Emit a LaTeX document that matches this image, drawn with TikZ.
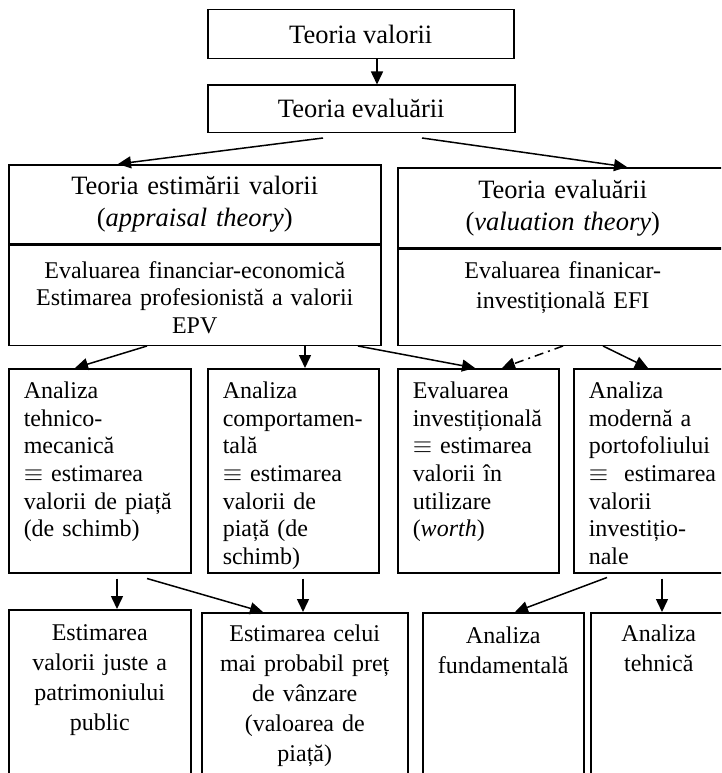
\documentclass[tikz,border=0pt]{standalone}
\usepackage{fontspec}
\setmainfont{Liberation Serif}
\usetikzlibrary{arrows.meta, positioning}
\newcommand{\headfont}{\fontsize{26.5}{32}\selectfont}
\newcommand{\bodyfont}{\fontsize{24}{27.6}\selectfont}
\newcommand{\lowfont}{\fontsize{24}{30}\selectfont}
\tikzset{
    % Base cell style
    cell/.style={
        rectangle,
        draw=black,
        line width=1.5pt,
        inner sep=0pt,
        anchor=north west
    },
    % Cell roles
    headCell/.style={cell, align=center, font=\headfont, inner xsep=6pt},
    finCell/.style={cell, align=center, font=\bodyfont, inner xsep=6pt, text depth=67pt},
    analysisCell/.style={cell, align=left, font=\bodyfont, inner xsep=15pt, text height=30pt, text depth=174pt},
    resultCell/.style={cell, align=center, font=\lowfont, inner xsep=6pt, text height=30pt, text depth=175pt},
    % Arrows
    arrow/.style={-{Triangle[length=13pt, width=12pt]}, line width=1.5pt},
    dashArrow/.style={arrow, dash pattern=on 9pt off 5pt on 2pt off 5pt}
}
\begin{document}
\begin{tikzpicture}[x=1pt, y=-1pt]

    \useasboundingbox (0,0) rectangle (721,773);
    \clip (0,0) rectangle (721,773);

    % --- TOP ---
    \node (valori) [headCell, minimum width=306pt, minimum height=49pt] at (207,9) {Teoria valorii};
    \node (evaluare) [headCell, minimum width=307pt, minimum height=47pt, below=25pt of valori.south west, anchor=north west] {Teoria evaluării};

    % --- THEORIES ---
    \node (appraisal) [headCell, text width=360pt, minimum height=79pt] at (8,164) {
        Teoria estimării valorii \\ (\textit{appraisal theory})
    };
    \node (appraisalFin) [finCell, text width=360pt, text height=33pt, below=0pt of appraisal.south west, anchor=north west] {
        Evaluarea financiar-economică \\
        Estimarea profesionistă a valorii \\
        EPV
    };
    \node (valuation) [headCell, text width=318pt, minimum height=80pt] at (397,167) {
        Teoria evaluării \\ (\textit{valuation theory})
    };
    \node (valuationFin) [finCell, text width=318pt, text height=29pt, font=\lowfont, below=0pt of valuation.south west, anchor=north west] {
        Evaluarea finanicar- \\
        investițională EFI
    };

    % --- ANALYSES ---
    \node (tehnic) [analysisCell, text width=152pt] at (8,368) {
        Analiza \\ tehnico- \\ mecanică \\ $\equiv$ estimarea \\ valorii de piață \\ (de schimb)
    };
    \node (comport) [analysisCell, text width=141pt] at (207,368) {
        Analiza \\ comportamen- \\ tală \\ $\equiv$ estimarea \\ valorii de \\ piață (de \\ schimb)
    };
    \node (invest) [analysisCell, text width=131pt] at (397,368) {
        Evaluarea \\ investițională \\ $\equiv$ estimarea \\ valorii în \\ utilizare \\ (\textit{worth})
    };
    \node (portof) [analysisCell, text width=124pt] at (573,368) {
        Analiza \\ modernă a \\ portofoliului \\ \mbox{$\equiv$\ \ estimarea} \\ valorii \\ investițio- \\ nale
    };

    % --- RESULTS ---
    \node (juste) [resultCell, text width=170pt, text height=31pt] at (8,609) {
        Estimarea \\ valorii juste a \\ patrimoniului \\ public
    };
    \node (probabil) [resultCell, text width=194pt, text height=29pt] at (201,612) {
        Estimarea celui \\ mai probabil preț \\ de vânzare \\ (valoarea de \\ piață)
    };
    \node (fundam) [resultCell, text width=149pt, text height=31pt] at (422,612) {
        Analiza \\ fundamentală
    };
    \node (tehnica) [resultCell, text width=124pt, text height=29pt] at (590,612) {
        Analiza \\ tehnică
    };

    % --- Arrows ---
    \draw [arrow] ([xshift=170pt]valori.south west) -- ([xshift=170pt]evaluare.north west);
    \draw [arrow] ([xshift=116pt, yshift=-5pt]evaluare.south west) -- ([xshift=110pt]appraisal.north west);
    \draw [arrow] ([xshift=215pt, yshift=-5pt]evaluare.south west) -- ([xshift=230pt]valuation.north west);

    \draw [arrow] ([xshift=139pt]appraisalFin.south west) -- ([xshift=67pt]tehnic.north west);
    \draw [arrow] ([xshift=297pt]appraisalFin.south west) -- ([xshift=98pt]comport.north west);
    \draw [arrow] ([xshift=350pt]appraisalFin.south west) -- ([xshift=78pt]invest.north west);
    \draw [dashArrow] ([xshift=166pt]valuationFin.south west) -- ([xshift=105pt]invest.north west); % dash-dot link
    \draw [arrow] ([xshift=206pt]valuationFin.south west) -- ([xshift=75pt]portof.north west);

    \draw [arrow] ([xshift=109pt, yshift=-5pt]tehnic.south west) -- ([xshift=109pt]juste.north west);
    \draw [arrow] ([xshift=139pt, yshift=-5pt]tehnic.south west) -- ([xshift=62pt]probabil.north west);
    \draw [arrow] ([xshift=96pt, yshift=-5pt]comport.south west) -- ([xshift=102pt]probabil.north west);
    \draw [arrow] ([xshift=34pt, yshift=-4pt]portof.south west) -- ([xshift=93pt]fundam.north west);
    \draw [arrow] ([xshift=89pt, yshift=-5pt]portof.south west) -- ([xshift=72pt]tehnica.north west);

\end{tikzpicture}
\end{document}
